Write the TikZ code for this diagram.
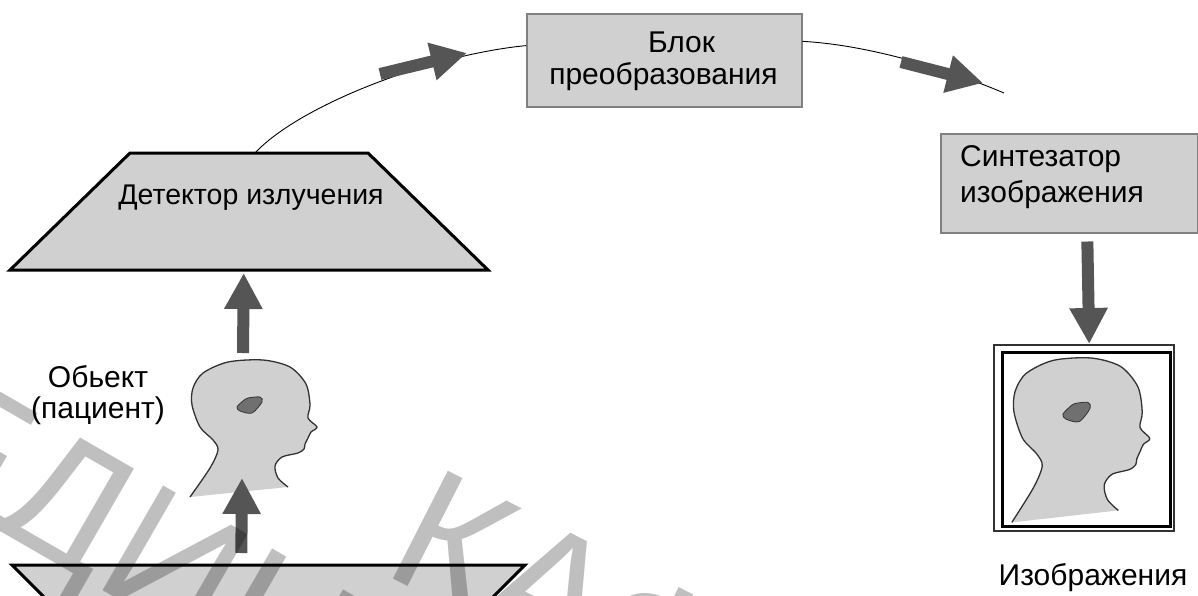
\documentclass[tikz,border=0pt]{standalone}
\usepackage{fontspec}
\setmainfont{Liberation Sans}
\usetikzlibrary{arrows.meta,calc}

\definecolor{panel}{RGB}{208,208,208}
\definecolor{boxline}{RGB}{128,128,128}
\definecolor{arrowgray}{RGB}{85,85,85}
\definecolor{blobgray}{RGB}{112,112,112}
\definecolor{outline}{RGB}{50,50,50}

% profile of a head with a lesion, local units in pt (y grows downwards)
\tikzset{
  headpic/.pic={
    \fill[panel] plot[smooth] coordinates {(-60,67) (-40,38) (-32,20) (-37,10) (-50,-3)
      (-58,-25) (-57,-42) (-47,-57) (-22,-68) (13,-70) (40,-63) (56,-46) (60,-25) (58,-12)
      (67,-3) (61,2) (58,8) (55,14) (54,19) (48,23) (32,27) (25,36) (28,48) (38,57)} -- cycle;
    \draw[outline, line width=1.3pt, line join=round] plot[smooth] coordinates {(-60,67) (-40,38) (-32,20) (-37,10) (-50,-3)
      (-58,-25) (-57,-42) (-47,-57) (-22,-68) (13,-70) (40,-63) (56,-46) (60,-25) (58,-12)
      (67,-3) (61,2) (58,8) (55,14) (54,19) (48,23) (32,27) (25,36) (28,48) (38,57)};
    \filldraw[fill=blobgray, draw=outline, line width=0.8pt] plot[smooth cycle] coordinates {
      (-13,-23) (-7,-29) (-2,-32) (10,-33) (12,-28) (2,-17) (-10,-19)};
  }
}

\begin{document}
\begin{tikzpicture}[x=1pt,y=-1pt,
  box/.style={draw=boxline, line width=1.5pt, fill=panel, inner sep=0pt},
  lbl/.style={font=\fontsize{30}{36}\selectfont, inner sep=0pt, text=black},
  flow/.style={draw=arrowgray, line width=12pt, -{Triangle[length=36pt,width=36pt]}},
  link/.style={draw=black, line width=0.9pt},
  plate/.style={draw=black, line width=3pt, fill=panel, line join=miter},
  wmark/.style={font=\fontsize{176}{176}\selectfont, text=black, opacity=0.25, inner sep=0pt}
]
\useasboundingbox (0,0) rectangle (1198,595);
\clip (0,0) rectangle (1198,595);

% radiation detector (trapezoid)
\coordinate (dtl) at (130,153);
\coordinate (dtr) at (368,153);
\coordinate (dbr) at (488,270);
\coordinate (dbl) at (10,270);
\draw[plate] (dtl) -- (dtr) -- (dbr) -- (dbl) -- cycle;
\node[lbl, font=\fontsize{28.5}{34}\selectfont, anchor=base] (det) at (251,204) {Детектор излучения};

% radiation source (cut by the lower edge)
\coordinate (stl) at (12,565);
\coordinate (str) at (525,565);
\draw[plate] (52,605) -- (stl) -- (str) -- (485,605);

% conversion unit
\node[box, minimum width=275pt, minimum height=93pt, anchor=north west] (blok) at (526,13) {};
\node[lbl, font=\fontsize{30}{32}\selectfont, align=center, anchor=north] (bloktxt) at (663.5,32)
  {\hspace*{36pt}Блок\\преобразования};

% image synthesizer
\node[box, minimum width=257pt, minimum height=99pt, anchor=north west] (synth) at (940,133) {};
\node[lbl, align=left, anchor=north west] (synthtxt) at (960,145) {Синтезатор\\изображения};

% patient
\pic at (250,430) {headpic};
\node[lbl, font=\fontsize{30}{31}\selectfont, align=center, anchor=north] (obj) at (98,365) {Обьект\\(пациент)};

% resulting image in a frame
\node[draw=outline, line width=1.5pt, minimum width=180pt, minimum height=186pt, inner sep=0pt,
  anchor=north west] (frame) at (993,344) {};
\node[draw=black, line width=3pt, minimum width=168pt, minimum height=174pt, inner sep=0pt,
  anchor=north west] (frameinner) at (1001,351) {};
\pic[xscale=1.087, yscale=1.2] at (1077,442) {headpic};
\node[lbl, anchor=base] (result) at (1093,585) {Изображения};

% signal path
\coordinate (detout) at ($(dtl)!0.525!(dtr)$);
\coordinate (blokin) at ($(blok.north west)!0.345!(blok.south west)$);
\coordinate (blokout) at ($(blok.north east)!0.30!(blok.south east)$);
\coordinate (synthin) at (1004,93);
\draw[link] (detout) .. controls (300,105) and (430,55) .. (blokin);
\draw[link] (blokout) .. controls (870,45) and (950,70) .. (synthin);

\coordinate (a1tail) at (380,74);
\coordinate (a1tip) at (467,53);
\coordinate (a2tail) at (901,62);
\coordinate (a2tip) at (983,83);
\draw[flow] (a1tail) -- (a1tip);
\draw[flow] (a2tail) -- (a2tip);

% vertical flows
\coordinate (srcout) at ($(stl)!0.447!(str)+(0,-12)$);
\coordinate (headin) at (242,478);
\coordinate (headout) at (243,353);
\coordinate (detin) at ($(dbl)!0.489!(dbr)+(0,3)$);
\coordinate (synthout) at ($(synth.south west)!0.57!(synth.south east)+(0,8)$);
\coordinate (framein) at ($(frame.north west)!0.53!(frame.north east)$);
\draw[flow] (srcout) -- (headin);
\draw[flow] (headout) -- (detin);
\draw[flow] (synthout) -- (framein);

% watermark
\node[wmark, rotate=-30, anchor=base west] (wm1) at (-115,465) {ЕДИН};
\node[wmark, rotate=-27, anchor=base west] (wm2) at (380,572) {КАФ};
\end{tikzpicture}
\end{document}
